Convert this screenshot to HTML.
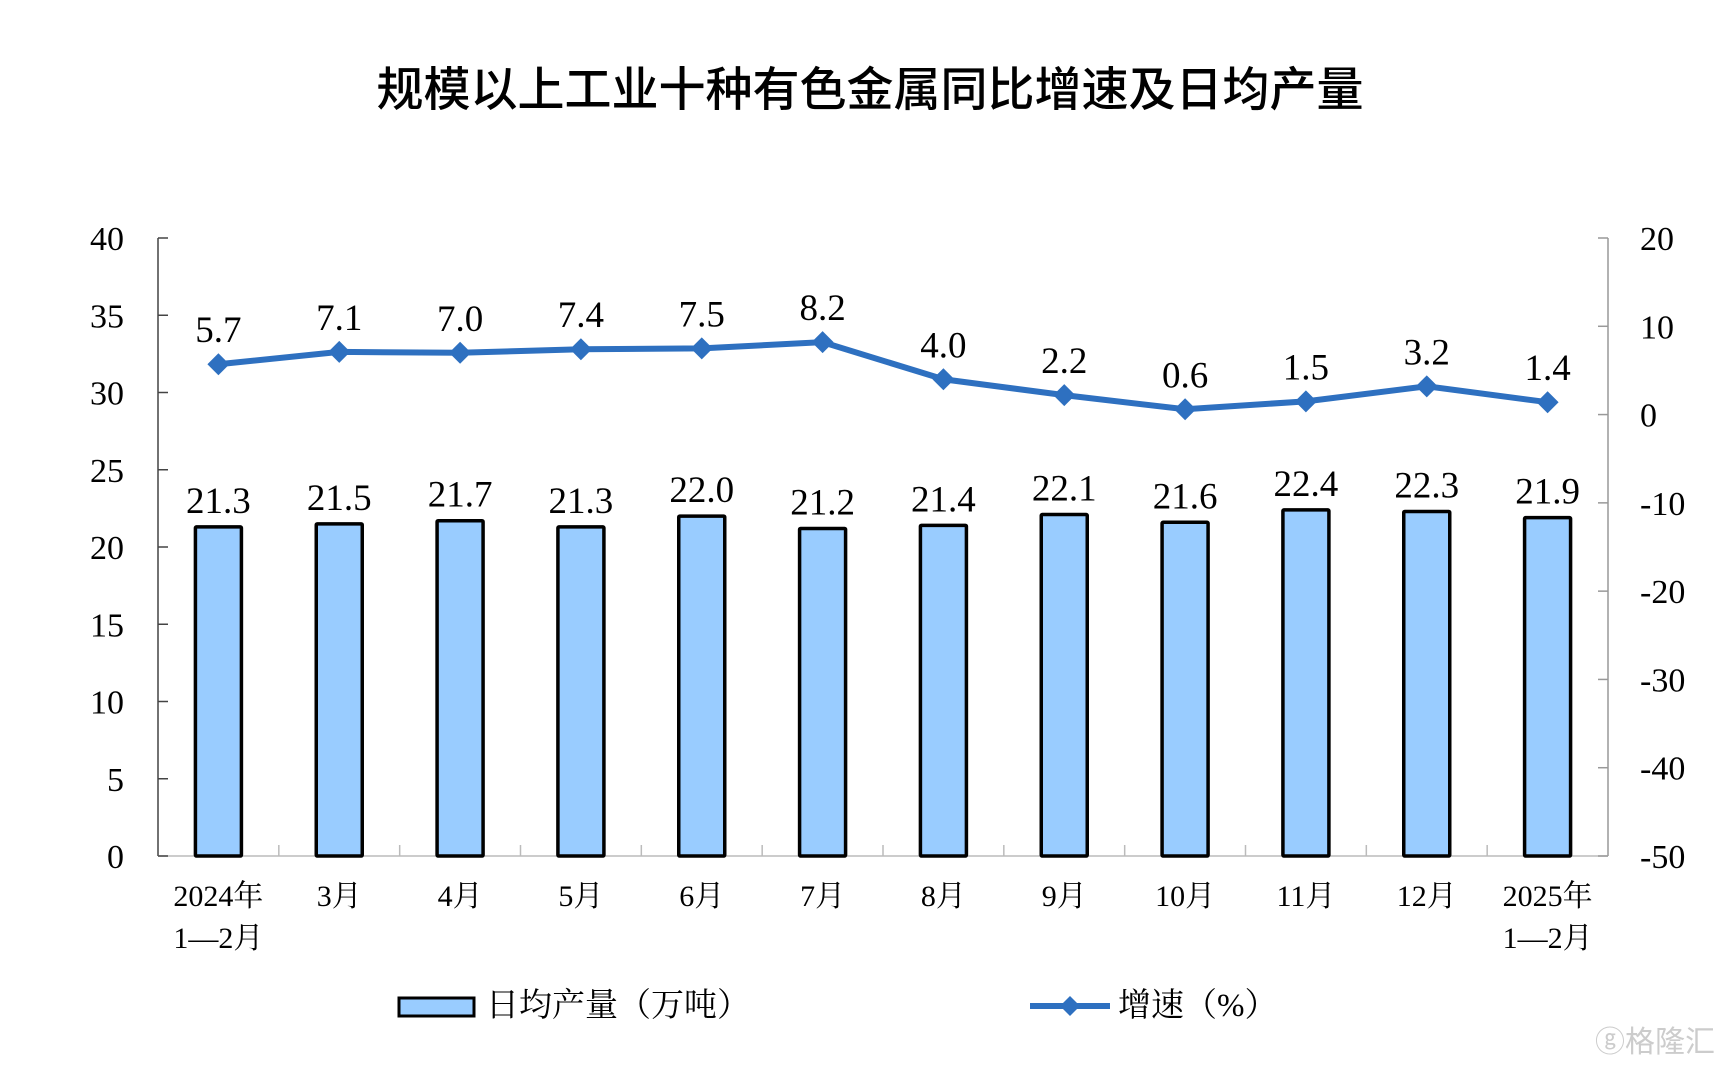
<!DOCTYPE html>
<html><head><meta charset="utf-8"><style>
body{margin:0;background:#fff;}
svg text{font-family:"Liberation Serif","Noto Serif CJK SC",serif;fill:#000;}
</style></head><body>
<svg width="1728" height="1062" xmlns="http://www.w3.org/2000/svg">
<text x="870" y="106" text-anchor="middle" font-size="47" font-weight="500" style="font-family:'Liberation Sans','Noto Sans CJK SC',sans-serif">规模以上工业十种有色金属同比增速及日均产量</text>
<g id="axes"></g><g id="bars"></g><g id="line"></g>
<g>
<rect x="399" y="998" width="75" height="18" fill="#99ccff" stroke="#000" stroke-width="3"/>
<text x="486" y="1016" font-size="33">日均产量（万吨）</text>
<line x1="1030" y1="1006" x2="1110" y2="1006" stroke="#2e70c0" stroke-width="6"/>
<path d="M1070 996 L1080 1006 L1070 1016 L1060 1006Z" fill="#2e70c0"/>
<text x="1118" y="1016" font-size="33">增速（%）</text>
</g>
<text x="1715" y="1052" text-anchor="end" font-size="30" fill="#ccc" style="fill:#ccc;font-family:'Noto Sans CJK SC',sans-serif">ⓖ格隆汇</text>
</svg>
<script>
const categories=[["2024年","1—2月"],["3月"],["4月"],["5月"],["6月"],["7月"],["8月"],["9月"],["10月"],["11月"],["12月"],["2025年","1—2月"]];
const output=[21.3,21.5,21.7,21.3,22.0,21.2,21.4,22.1,21.6,22.4,22.3,21.9];
const growth=[5.7,7.1,7.0,7.4,7.5,8.2,4.0,2.2,0.6,1.5,3.2,1.4];
const leftTicks=[0,5,10,15,20,25,30,35,40];
const rightTicks=[-50,-40,-30,-20,-10,0,10,20];
const NS="http://www.w3.org/2000/svg";
const X0=158,X1=1608,Y0=856,Y1=238;
const bw=(X1-X0)/categories.length;
const xc=i=>X0+bw*(i+0.5);
const yL=v=>Y0-(v-0)/(40-0)*(Y0-Y1);
const yR=v=>Y0-(v+50)/(70)*(Y0-Y1);
function mk(tag,attrs,parent,txt){const e=document.createElementNS(NS,tag);for(const k in attrs)e.setAttribute(k,attrs[k]);if(txt!==undefined)e.textContent=txt;parent.appendChild(e);return e;}
const ax=document.getElementById('axes'),bars=document.getElementById('bars'),ln=document.getElementById('line');
let e;
e=mk('line',{x1:X0,y1:Y1,x2:X0,y2:Y0,stroke:'#444','stroke-width':1.5},ax);


e=mk('line',{x1:X1,y1:Y1,x2:X1,y2:Y0,stroke:'#999','stroke-width':1.5},ax);


e=mk('line',{x1:X0,y1:Y0,x2:X1,y2:Y0,stroke:'#bbb','stroke-width':1.5},ax);


leftTicks.forEach(v=>{const y=yL(v);
mk('line',{x1:X0,y1:y,x2:X0+10,y2:y,stroke:'#444','stroke-width':1.5},ax);
e=mk('text',{x:124,y:y+12,'text-anchor':'end','font-size':34},ax,String(v));

});
rightTicks.forEach(v=>{const y=yR(v);
mk('line',{x1:X1-10,y1:y,x2:X1,y2:y,stroke:'#999','stroke-width':1.5},ax);
e=mk('text',{x:1640,y:y+12,'font-size':34},ax,String(v));

});
for(let i=1;i<categories.length;i++){const x=X0+bw*i;mk('line',{x1:x,y1:Y0-11,x2:x,y2:Y0,stroke:'#bbb','stroke-width':1.5},ax);}
categories.forEach((c,i)=>{c.forEach((t,j)=>{
e=mk('text',{x:xc(i),y:906+j*42,'text-anchor':'middle','font-size':30},ax,t);

});});
output.forEach((v,i)=>{const y=yL(v);
e=mk('rect',{x:xc(i)-23,y:y,width:46,height:Y0-y,fill:'#99ccff',stroke:'#000','stroke-width':3.5,rx:1},bars);


e=mk('text',{x:xc(i),y:y-14,'text-anchor':'middle','font-size':37},bars,v.toFixed(1));

});
e=mk('polyline',{points:growth.map((v,i)=>xc(i)+','+yR(v)).join(' '),fill:'none',stroke:'#2e70c0','stroke-width':6},ln);


growth.forEach((v,i)=>{const x=xc(i),y=yR(v);
e=mk('path',{d:`M${x} ${y-11}L${x+11} ${y}L${x} ${y+11}L${x-11} ${y}Z`,fill:'#2e70c0'},ln);


e=mk('text',{x:x,y:y-22,'text-anchor':'middle','font-size':37},ln,v.toFixed(1));

});
</script>
</body></html>
